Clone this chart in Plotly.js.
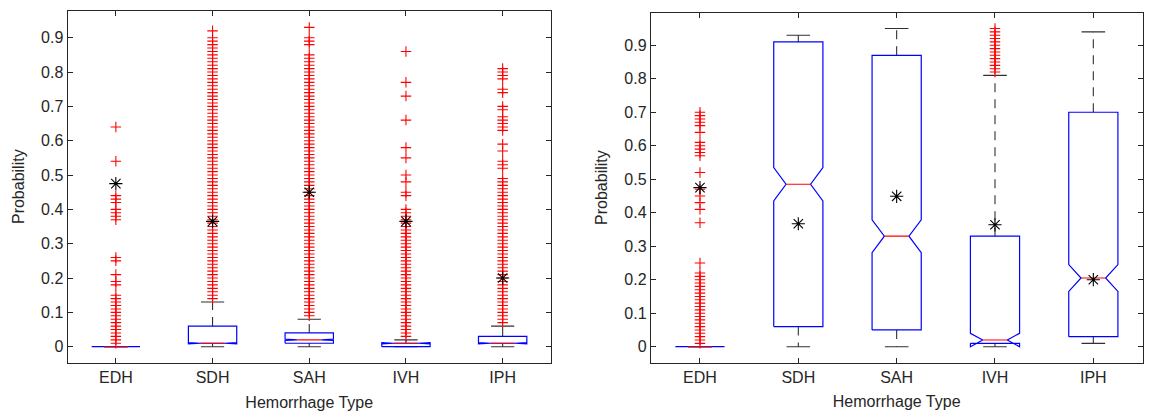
<!DOCTYPE html>
<html><head><meta charset="utf-8">
<script src="https://cdn.plot.ly/plotly-3.0.1.min.js"></script>
<style>html,body{margin:0;padding:0;background:#fff}#chart{width:1154px;height:415px}</style>
</head><body><div id="chart"></div>
<script>
// ---------- data ----------
const categories = ['EDH', 'SDH', 'SAH', 'IVH', 'IPH'];
const yTickVals = [0, 0.1, 0.2, 0.3, 0.4, 0.5, 0.6, 0.7, 0.8, 0.9];
const yTickText = ['0', '0.1', '0.2', '0.3', '0.4', '0.5', '0.6', '0.7', '0.8', '0.9'];
const xTitle = 'Hemorrhage Type';
const yTitle = 'Probability';

// left panel
const leftQ1 = [0, 0.01, 0.01, 0, 0.01];
const leftMedian = [0, 0.01, 0.02, 0.01, 0.01];
const leftQ3 = [0, 0.06, 0.04, 0.01, 0.03];
const leftLowerWhisker = [0, 0, 0, 0, 0];
const leftUpperWhisker = [0, 0.13, 0.08, 0.02, 0.06];
const leftNotch = [0, 0.002, 0.002, 0.002, 0.002];
const leftMean = [0.475, 0.365, 0.45, 0.365, 0.2];
const leftOutEDH = [0.64, 0.54, 0.44, 0.43, 0.42, 0.40, 0.39, 0.38, 0.37, 0.26, 0.25, 0.21, 0.19, 0.18, 0.15, 0.14, 0.13, 0.12, 0.11, 0.10, 0.09, 0.08, 0.07, 0.06, 0.05, 0.04, 0.03, 0.02, 0.01];
const leftOutSDH = [0.92, 0.90, 0.89, 0.88, 0.87, 0.86, 0.85, 0.84, 0.83, 0.82, 0.81, 0.80, 0.79, 0.78, 0.77, 0.76, 0.75, 0.74, 0.73, 0.72, 0.71, 0.70, 0.69, 0.68, 0.67, 0.66, 0.65, 0.64, 0.63, 0.62, 0.61, 0.60, 0.59, 0.58, 0.57, 0.56, 0.55, 0.54, 0.53, 0.52, 0.51, 0.50, 0.49, 0.48, 0.47, 0.46, 0.45, 0.44, 0.43, 0.42, 0.41, 0.40, 0.39, 0.38, 0.37, 0.36, 0.35, 0.34, 0.33, 0.32, 0.31, 0.30, 0.29, 0.28, 0.27, 0.26, 0.25, 0.24, 0.23, 0.22, 0.21, 0.20, 0.19, 0.18, 0.17, 0.16, 0.15, 0.14];
const leftOutSAH = [0.93, 0.90, 0.89, 0.88, 0.85, 0.84, 0.83, 0.82, 0.81, 0.80, 0.79, 0.78, 0.77, 0.76, 0.75, 0.74, 0.73, 0.72, 0.71, 0.70, 0.69, 0.68, 0.67, 0.66, 0.65, 0.64, 0.63, 0.62, 0.61, 0.60, 0.59, 0.58, 0.57, 0.56, 0.55, 0.54, 0.53, 0.52, 0.51, 0.50, 0.49, 0.48, 0.47, 0.46, 0.45, 0.44, 0.43, 0.42, 0.41, 0.40, 0.39, 0.38, 0.37, 0.36, 0.35, 0.34, 0.33, 0.32, 0.31, 0.30, 0.29, 0.28, 0.27, 0.26, 0.25, 0.24, 0.23, 0.22, 0.21, 0.20, 0.19, 0.18, 0.17, 0.16, 0.15, 0.14, 0.13, 0.12, 0.11, 0.10, 0.09];
const leftOutIVH = [0.86, 0.77, 0.73, 0.66, 0.58, 0.55, 0.50, 0.48, 0.45, 0.44, 0.40, 0.39, 0.38, 0.37, 0.36, 0.35, 0.34, 0.33, 0.32, 0.31, 0.30, 0.29, 0.28, 0.27, 0.26, 0.25, 0.24, 0.23, 0.22, 0.21, 0.20, 0.19, 0.18, 0.17, 0.16, 0.15, 0.14, 0.13, 0.12, 0.11, 0.10, 0.09, 0.08, 0.07, 0.06, 0.05, 0.04, 0.03];
const leftOutIPH = [0.81, 0.80, 0.79, 0.78, 0.75, 0.74, 0.70, 0.69, 0.67, 0.66, 0.65, 0.64, 0.63, 0.59, 0.57, 0.54, 0.53, 0.52, 0.49, 0.48, 0.47, 0.46, 0.45, 0.44, 0.43, 0.42, 0.41, 0.40, 0.39, 0.38, 0.37, 0.36, 0.35, 0.34, 0.33, 0.32, 0.31, 0.30, 0.29, 0.28, 0.27, 0.26, 0.25, 0.24, 0.23, 0.22, 0.21, 0.20, 0.19, 0.18, 0.17, 0.16, 0.15, 0.14, 0.13, 0.12, 0.11, 0.10, 0.09, 0.08, 0.07];

// right panel
const rightQ1 = [0, 0.06, 0.05, 0.01, 0.03];
const rightMedian = [0, 0.485, 0.33, 0.02, 0.205];
const rightQ3 = [0, 0.91, 0.87, 0.33, 0.70];
const rightLowerWhisker = [0, 0, 0, 0, 0.01];
const rightUpperWhisker = [0, 0.93, 0.95, 0.81, 0.94];
const rightNotch = [0, 0.05, 0.049, 0.02, 0.04];
const rightMean = [0.475, 0.367, 0.449, 0.364, 0.2];
const rightOutEDH = [0.70, 0.69, 0.68, 0.67, 0.66, 0.64, 0.61, 0.60, 0.59, 0.58, 0.57, 0.52, 0.47, 0.45, 0.43, 0.41, 0.37, 0.25, 0.22, 0.21, 0.20, 0.19, 0.18, 0.17, 0.16, 0.15, 0.14, 0.13, 0.12, 0.11, 0.10, 0.09, 0.08, 0.07, 0.06, 0.05, 0.04, 0.03, 0.02, 0.01];
const rightOutSDH = [];
const rightOutSAH = [];
const rightOutIVH = [0.95, 0.94, 0.93, 0.92, 0.91, 0.90, 0.89, 0.88, 0.87, 0.86, 0.85, 0.84, 0.83, 0.82];
const rightOutIPH = [];

// ---------- styling constants ----------
const BOX_HALF = 0.25, NOTCH_HALF = 0.125, CAP_HALF = 0.12;
const AX_COLOR = '#262626';
const FONT = 'Liberation Sans, Arial, Helvetica, sans-serif';

function panel(xa, ya, q1, med, q3, lo, hi, notch, mean, outs) {
  const wx = [], wy = [], cx = [], cy = [], bx = [], by = [], mx = [], my = [], ox = [], oy = [];
  categories.forEach((c, i) => {
    const p = i + 1;
    wx.push(p, p, null, p, p, null);
    wy.push(q3[i], hi[i], null, q1[i], lo[i], null);
    cx.push(p - CAP_HALF, p + CAP_HALF, null, p - CAP_HALF, p + CAP_HALF, null);
    cy.push(hi[i], hi[i], null, lo[i], lo[i], null);
    const n = notch[i];
    bx.push(p - BOX_HALF, p - BOX_HALF, p - NOTCH_HALF, p - BOX_HALF, p - BOX_HALF,
            p + BOX_HALF, p + BOX_HALF, p + NOTCH_HALF, p + BOX_HALF, p + BOX_HALF, p - BOX_HALF, null);
    by.push(q1[i], med[i] - n, med[i], med[i] + n, q3[i],
            q3[i], med[i] + n, med[i], med[i] - n, q1[i], q1[i], null);
    mx.push(p - NOTCH_HALF, p + NOTCH_HALF, null);
    my.push(med[i], med[i], null);
    outs[i].forEach(v => { ox.push(p); oy.push(v); });
  });
  const base = {xaxis: xa, yaxis: ya, showlegend: false, hoverinfo: 'skip'};
  return [
    Object.assign({type: 'scatter', mode: 'lines', x: wx, y: wy, line: {color: '#303030', width: 1.1, dash: '9px,7px'}}, base),
    Object.assign({type: 'scatter', mode: 'lines', x: cx, y: cy, line: {color: '#303030', width: 1.1}}, base),
    Object.assign({type: 'scatter', mode: 'lines', x: bx, y: by, line: {color: '#0000ff', width: 1.2}}, base),
    Object.assign({type: 'scatter', mode: 'lines', x: mx, y: my, line: {color: '#ff0000', width: 1.1}}, base),
    Object.assign({type: 'scatter', mode: 'markers', x: ox, y: oy,
      marker: {symbol: 'cross-thin-open', size: 7.5, color: '#ff0000', line: {color: '#ff0000', width: 1.1}}}, base),
    Object.assign({type: 'scatter', mode: 'markers', x: categories.map((c, i) => i + 1), y: mean,
      marker: {symbol: 'asterisk-open', size: 11, color: '#000', line: {color: '#000', width: 1.1}}}, base)
  ];
}

const traces = [].concat(
  panel('x', 'y', leftQ1, leftMedian, leftQ3, leftLowerWhisker, leftUpperWhisker, leftNotch, leftMean,
        [leftOutEDH, leftOutSDH, leftOutSAH, leftOutIVH, leftOutIPH]),
  panel('x2', 'y2', rightQ1, rightMedian, rightQ3, rightLowerWhisker, rightUpperWhisker, rightNotch, rightMean,
        [rightOutEDH, rightOutSDH, rightOutSAH, rightOutIVH, rightOutIPH])
);

function xAxis(domain, anchor) {
  return {
    domain: domain, anchor: anchor, range: [0.5, 5.5],
    tickmode: 'array', tickvals: categories.map((c, i) => i + 1), ticktext: categories,
    ticks: 'inside', ticklen: 5, tickcolor: AX_COLOR, tickwidth: 1,
    showline: true, linecolor: AX_COLOR, linewidth: 1, mirror: 'ticks',
    showgrid: false, zeroline: false, fixedrange: true,
    tickfont: {family: FONT, size: 16, color: AX_COLOR},
    title: {text: xTitle, font: {family: FONT, size: 16, color: AX_COLOR}, standoff: 11}
  };
}
function yAxis(domain, anchor, range) {
  return {
    domain: domain, anchor: anchor, range: range,
    tickmode: 'array', tickvals: yTickVals, ticktext: yTickText,
    ticks: 'inside', ticklen: 5, tickcolor: AX_COLOR, tickwidth: 1,
    showline: true, linecolor: AX_COLOR, linewidth: 1, mirror: 'ticks',
    showgrid: false, zeroline: false, fixedrange: true,
    tickfont: {family: FONT, size: 16, color: AX_COLOR},
    title: {text: yTitle, font: {family: FONT, size: 16, color: AX_COLOR}, standoff: 12}
  };
}

const W = 1154, H = 415;
const layout = {
  width: W, height: H,
  margin: {l: 0, r: 0, t: 0, b: 0, pad: 0},
  paper_bgcolor: '#fff', plot_bgcolor: '#fff',
  xaxis: xAxis([67.5 / W, 551 / W], 'y'),
  yaxis: yAxis([(H - 362.7) / H, (H - 10.7) / H], 'x', [-0.0466, 0.9787]),
  xaxis2: xAxis([650.8 / W, 1142.5 / W], 'y2'),
  yaxis2: yAxis([(H - 362.6) / H, (H - 12.6) / H], 'x2', [-0.0475, 0.9975])
};

Plotly.newPlot('chart', traces, layout, {staticPlot: true, displayModeBar: false});
</script></body></html>
